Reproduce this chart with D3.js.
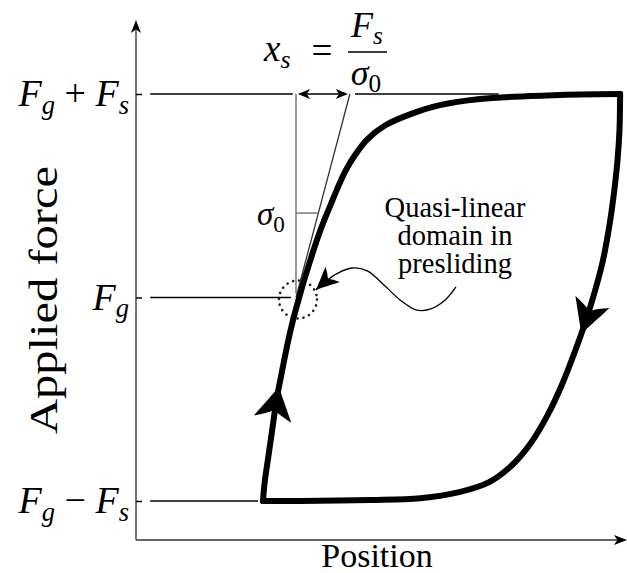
<!DOCTYPE html>
<html><head><meta charset="utf-8">
<script src="https://cdn.jsdelivr.net/npm/d3@7"></script>
<style>html,body{margin:0;padding:0;background:#fff;} svg{display:block}</style>
</head><body>
<svg id="chart" width="627" height="573"></svg>
<script>
// ---- data (position in arbitrary units, force in units of F_s about F_g) ----
const forceLevels = [-1, 0, 1];
// label pieces: [text, style] ; 0 roman, 1 italic, 2 italic subscript, 3 roman subscript
const forceLabels = [
  [["F",1],["g",2],[" \u2212 ",0],["F",1],["s",2]],
  [["F",1],["g",2]],
  [["F",1],["g",2],[" + ",0],["F",1],["s",2]]
];
const xFg = 32.65;   // position where the loading branch crosses F_g
const xs = 11.0;     // presliding displacement x_s = F_s / sigma_0
const triangleF = 0.415; // height of the slope triangle

// loading branch: from F_g - F_s up to F_g + F_s
const loadingBranch = [
  [25.9,-1.0],[26.3,-0.90],[26.9,-0.80],[27.8,-0.65],[28.7,-0.50],[29.7,-0.375],
  [30.9,-0.23],[32.0,-0.115],[33.3,0],[34.5,0.10],[35.8,0.20],[37.1,0.295],
  [38.5,0.385],[39.8,0.46],[41.0,0.53],[42.7,0.62],[44.7,0.70],[47.1,0.775],
  [50.8,0.845],[55.9,0.90],[62.0,0.945],[70.2,0.975],[80.4,0.99],[90.6,0.998],[98.8,1.0]
];
// unloading branch: back from F_g + F_s down to F_g - F_s
const unloadingBranch = [
  [98.8,1.0],[98.67,0.823],[98.27,0.676],[97.55,0.514],[96.63,0.356],[95.31,0.184],
  [93.55,0.022],[91.84,-0.111],[89.69,-0.258],[86.90,-0.430],[84.02,-0.577],[80.59,-0.715],
  [76.78,-0.823],[72.08,-0.907],[65.96,-0.956],[58.0,-0.986],[47.76,-0.995],[33.47,-1.0],[25.9,-1.0]
];
// direction arrows on the loop (force value at arrow tip)
const loadingArrowF = -0.44;
const unloadingArrowF = -0.18;

// horizontal guide lines at each force level
const guideSpans = [
  {F: 1, from: 2.9, to: 32.0},
  {F: 1, from: 44.7, to: 74.0},
  {F: 0, from: 2.9, to: 31.6},
  {F: -1, from: 2.9, to: 24.9}
];
// wavy pointer towards the presliding region
const pointerPath = [
  [65.3,0.052],[63.1,-0.012],[60.0,-0.057],[57.1,-0.061],[53.9,-0.012],[50.6,0.061],
  [47.3,0.130],[44.1,0.145],[41.2,0.120],[38.0,0.066],[36.7,0.037]
];
const noteLines = ["Quasi-linear", "domain in", "presliding"];

// ---- layout ----
const svg = d3.select("#chart");
const x = d3.scaleLinear().domain([0, 100]).range([136, 626]);
const y = d3.scaleLinear().domain([-1, 1]).range([501, 94]);
const axisBottomY = 540, axisTopY = 20, axisRightX = 627;
const serif = "'Liberation Serif', 'DejaVu Serif', serif";

// arrowhead pointing along +x with its tip at the origin (notched back)
function arrowHead(L, W) {
  return `M0,0 C${-L*0.4},${W*0.19} ${-L*0.75},${W*0.38} ${-L},${W*0.5}
          Q${-L*0.86},${W*0.18} ${-L*0.72},0
          Q${-L*0.86},${-W*0.18} ${-L},${-W*0.5}
          C${-L*0.75},${-W*0.38} ${-L*0.4},${-W*0.19} 0,0 Z`;
}
function placeHead(g, px, py, angDeg, L, W, color) {
  g.append("path").attr("d", arrowHead(L, W))
    .attr("transform", `translate(${px},${py}) rotate(${angDeg})`)
    .attr("fill", color || "#000");
}
function mathText(sel, parts, size) {
  const sub = size * 0.7, shift = size * 0.2;
  let down = false;
  parts.forEach(([t, s]) => {
    const ts = sel.append("tspan").text(t);
    const isSub = s === 2 || s === 3;
    ts.attr("font-style", (s === 1 || s === 2) ? "italic" : "normal")
      .attr("font-size", isSub ? sub : size);
    if (isSub && !down) { ts.attr("dy", shift); down = true; }
    else if (!isSub && down) { ts.attr("dy", -shift); down = false; }
  });
}

// ---- axes ----
const axG = svg.append("g");
axG.append("line").attr("x1", x(0)).attr("x2", x(0)).attr("y1", axisBottomY).attr("y2", axisTopY + 6)
  .attr("stroke", "#555").attr("stroke-width", 1.6);
axG.append("line").attr("x1", x(0)).attr("x2", axisRightX - 6).attr("y1", axisBottomY).attr("y2", axisBottomY)
  .attr("stroke", "#666").attr("stroke-width", 2);
placeHead(axG, x(0), axisTopY, -90, 13, 10);
placeHead(axG, axisRightX, axisBottomY, 0, 13, 10);

const ticks = svg.append("g").attr("transform", `translate(${x(0)},0)`)
  .call(d3.axisLeft(y).tickValues(forceLevels).tickSize(-6).tickFormat(""));
ticks.select(".domain").remove();
ticks.selectAll("line").attr("stroke", "#000").attr("stroke-width", 1.5);

// tick labels
forceLevels.forEach((f, i) => {
  const t = svg.append("text").attr("x", 129).attr("y", y(f) + 12)
    .attr("text-anchor", "end").attr("font-family", serif).attr("fill", "#000");
  mathText(t, forceLabels[i], 38);
});

// guide lines
svg.append("g").selectAll("line").data(guideSpans).join("line")
  .attr("x1", d => x(d.from)).attr("x2", d => x(d.to))
  .attr("y1", d => y(d.F)).attr("y2", d => y(d.F))
  .attr("stroke", "#000").attr("stroke-width", 1.5);

// x_s construction: vertical reference, slope line and slope triangle
const cons = svg.append("g");
cons.append("line").attr("x1", x(xFg)).attr("x2", x(xFg)).attr("y1", y(1)).attr("y2", y(0.02))
  .attr("stroke", "#777").attr("stroke-width", 1.5);
cons.append("line").attr("x1", x(xFg)).attr("x2", x(xFg + xs)).attr("y1", y(0)).attr("y2", y(1))
  .attr("stroke", "#333").attr("stroke-width", 1.3);
cons.append("line").attr("x1", x(xFg)).attr("x2", x(xFg + xs * triangleF))
  .attr("y1", y(triangleF)).attr("y2", y(triangleF))
  .attr("stroke", "#777").attr("stroke-width", 1.5);
// double arrow for x_s
cons.append("line").attr("x1", x(xFg) + 4).attr("x2", x(xFg + xs) - 4).attr("y1", y(1)).attr("y2", y(1))
  .attr("stroke", "#000").attr("stroke-width", 1.4);
placeHead(cons, x(xFg) + 2, y(1), 180, 12, 10);
placeHead(cons, x(xFg + xs) - 2, y(1), 0, 12, 10);

// dotted circle around the quasi-linear region
svg.append("circle").attr("cx", x(xFg) + 2).attr("cy", y(0) + 2).attr("r", 19)
  .attr("fill", "none").attr("stroke", "#222").attr("stroke-width", 2.6)
  .attr("stroke-linecap", "round").attr("stroke-dasharray", "0.1 5.9");

// ---- hysteresis loop ----
const line = d3.line().x(d => x(d[0])).y(d => y(d[1])).curve(d3.curveCatmullRom.alpha(0.5));
const loop = svg.append("g");
const pLoad = loop.append("path").attr("d", line(loadingBranch));
const pUnload = loop.append("path").attr("d", line(unloadingBranch));
loop.selectAll("path").attr("fill", "none").attr("stroke", "#000").attr("stroke-width", 6)
  .attr("stroke-linecap", "round").attr("stroke-linejoin", "round");

function headOnPath(node, targetY, rising, L, W) {
  const total = node.getTotalLength();
  for (let l = 2; l <= total; l += 0.5) {
    const p = node.getPointAtLength(l);
    if ((rising && p.y <= targetY) || (!rising && p.y >= targetY && l > 20)) {
      const q = node.getPointAtLength(l - 3);
      const ang = Math.atan2(p.y - q.y, p.x - q.x) * 180 / Math.PI;
      placeHead(loop, p.x, p.y, ang, L, W);
      return;
    }
  }
}
headOnPath(pLoad.node(), y(loadingArrowF), true, 33, 38);
headOnPath(pUnload.node(), y(unloadingArrowF), false, 34, 36);

// ---- pointer and note ----
const pointerLine = d3.line().x(d => x(d[0])).y(d => y(d[1])).curve(d3.curveCatmullRom.alpha(0.5));
svg.append("path").attr("d", pointerLine(pointerPath))
  .attr("fill", "none").attr("stroke", "#000").attr("stroke-width", 1.3);
{
  const n = pointerPath.length;
  const a = pointerPath[n - 2], b = pointerPath[n - 1];
  const ang = Math.atan2(y(b[1]) - y(a[1]), x(b[0]) - x(a[0])) * 180 / Math.PI;
  placeHead(svg, x(b[0]), y(b[1]), ang, 23, 21);
}
svg.append("g").selectAll("text").data(noteLines).join("text")
  .attr("x", 455).attr("y", (d, i) => 217 + i * 28)
  .attr("text-anchor", "middle").attr("font-family", serif).attr("font-size", 28.5)
  .text(d => d);

// sigma_0 next to the slope triangle
{
  const t = svg.append("text").attr("x", 257).attr("y", 225).attr("font-family", serif);
  mathText(t, [["\u03C3",1],["0",3]], 33);
}

// x_s = F_s / sigma_0
{
  const t = svg.append("text").attr("x", 264).attr("y", 61).attr("font-family", serif);
  mathText(t, [["x",1],["s",2]], 37);
  svg.append("text").attr("x", 322).attr("y", 63).attr("text-anchor", "middle")
    .attr("font-family", serif).attr("font-size", 37).text("=");
  svg.append("line").attr("x1", 348).attr("x2", 387).attr("y1", 52).attr("y2", 52)
    .attr("stroke", "#000").attr("stroke-width", 1.5);
  const num = svg.append("text").attr("x", 367).attr("y", 37).attr("text-anchor", "middle").attr("font-family", serif);
  mathText(num, [["F",1],["s",2]], 36);
  const den = svg.append("text").attr("x", 366).attr("y", 85).attr("text-anchor", "middle").attr("font-family", serif);
  mathText(den, [["\u03C3",1],["0",3]], 36);
}

// axis titles
svg.append("text").attr("x", 377).attr("y", 567).attr("text-anchor", "middle")
  .attr("font-family", serif).attr("font-size", 34).text("Position");
svg.append("text").attr("transform", "translate(57,300) rotate(-90)").attr("text-anchor", "middle")
  .attr("font-family", serif).attr("font-size", 41)
  .attr("textLength", 268).attr("lengthAdjust", "spacingAndGlyphs").text("Applied force");
</script>
</body></html>
